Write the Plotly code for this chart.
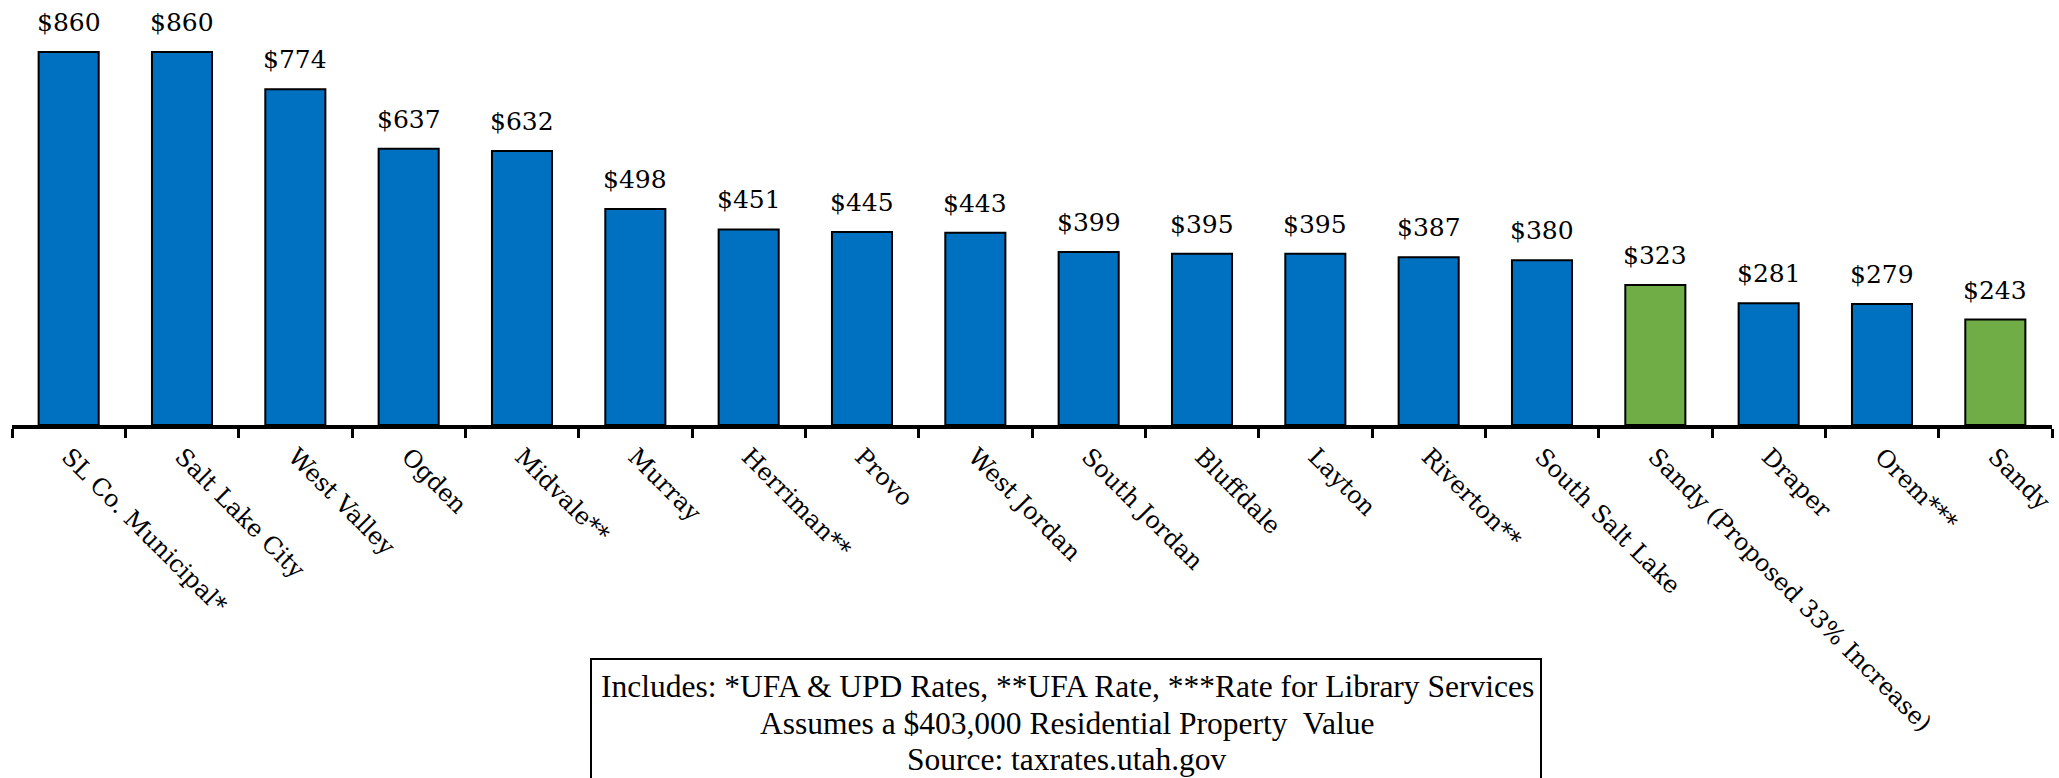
import plotly.graph_objects as go

# Annual municipal property tax by city
cities = [
    "SL Co. Municipal*", "Salt Lake City", "West Valley", "Ogden", "Midvale**",
    "Murray", "Herriman**", "Provo", "West Jordan", "South Jordan", "Bluffdale",
    "Layton", "Riverton**", "South Salt Lake", "Sandy (Proposed 33% Increase)",
    "Draper", "Orem***", "Sandy",
]
tax = [860, 860, 774, 637, 632, 498, 451, 445, 443, 399, 395, 395, 387, 380,
       323, 281, 279, 243]
highlight = ["Sandy (Proposed 33% Increase)", "Sandy"]

footnote_lines = [
    "Includes: *UFA & UPD Rates, **UFA Rate, ***Rate for Library Services",
    "Assumes a $403,000 Residential Property  Value",
    "Source: taxrates.utah.gov",
]

BLUE = "#0070C0"
GREEN = "#70AD47"
colors = [GREEN if c in highlight else BLUE for c in cities]

W, H = 2059, 778
ML, MR, MT, MB = 12, 7, 0, 353
plot_w = W - ML - MR
plot_h = H - MT - MB

fig = go.Figure(
    go.Bar(
        x=cities,
        y=tax,
        marker=dict(color=colors, line=dict(color="black", width=2)),
        width=0.53,
        hoverinfo="x+y",
    )
)

# value labels above each bar
for c, v in zip(cities, tax):
    fig.add_annotation(
        x=c, y=v, text=f"${v}", showarrow=False, yanchor="bottom", yshift=13,
        font=dict(family="DejaVu Serif", size=25, color="black"),
    )


def px_x(px):
    return (px - ML) / plot_w


def px_y(py):
    return (MT + plot_h - py) / plot_h


# footnote box
fig.add_shape(
    type="rect", xref="paper", yref="paper",
    x0=px_x(591), x1=px_x(1541), y0=px_y(810), y1=px_y(659),
    line=dict(color="black", width=2), fillcolor="white", layer="above",
)
for line, yc in zip(footnote_lines, [686, 723, 759]):
    fig.add_annotation(
        xref="paper", yref="paper", x=px_x(1067), y=px_y(yc),
        xanchor="center", yanchor="middle", showarrow=False,
        text=line,
        font=dict(family="Liberation Serif", size=31.5, color="black"),
    )

fig.update_layout(
    width=W, height=H,
    margin=dict(l=ML, r=MR, t=MT, b=MB, pad=0),
    paper_bgcolor="white", plot_bgcolor="white",
    showlegend=False,
    bargap=0.47,
    xaxis=dict(
        type="category",
        showline=True, linecolor="black", linewidth=4,
        ticks="outside", tickson="boundaries", ticklen=9, tickwidth=3,
        tickcolor="black", tickangle=45, ticklabelstandoff=4,
        tickfont=dict(family="DejaVu Serif", size=24, color="black"),
        showgrid=False, zeroline=False,
    ),
    yaxis=dict(
        range=[0, plot_h / 0.4337],
        visible=False, showgrid=False, zeroline=False,
    ),
)

fig.write_html("out.html")
